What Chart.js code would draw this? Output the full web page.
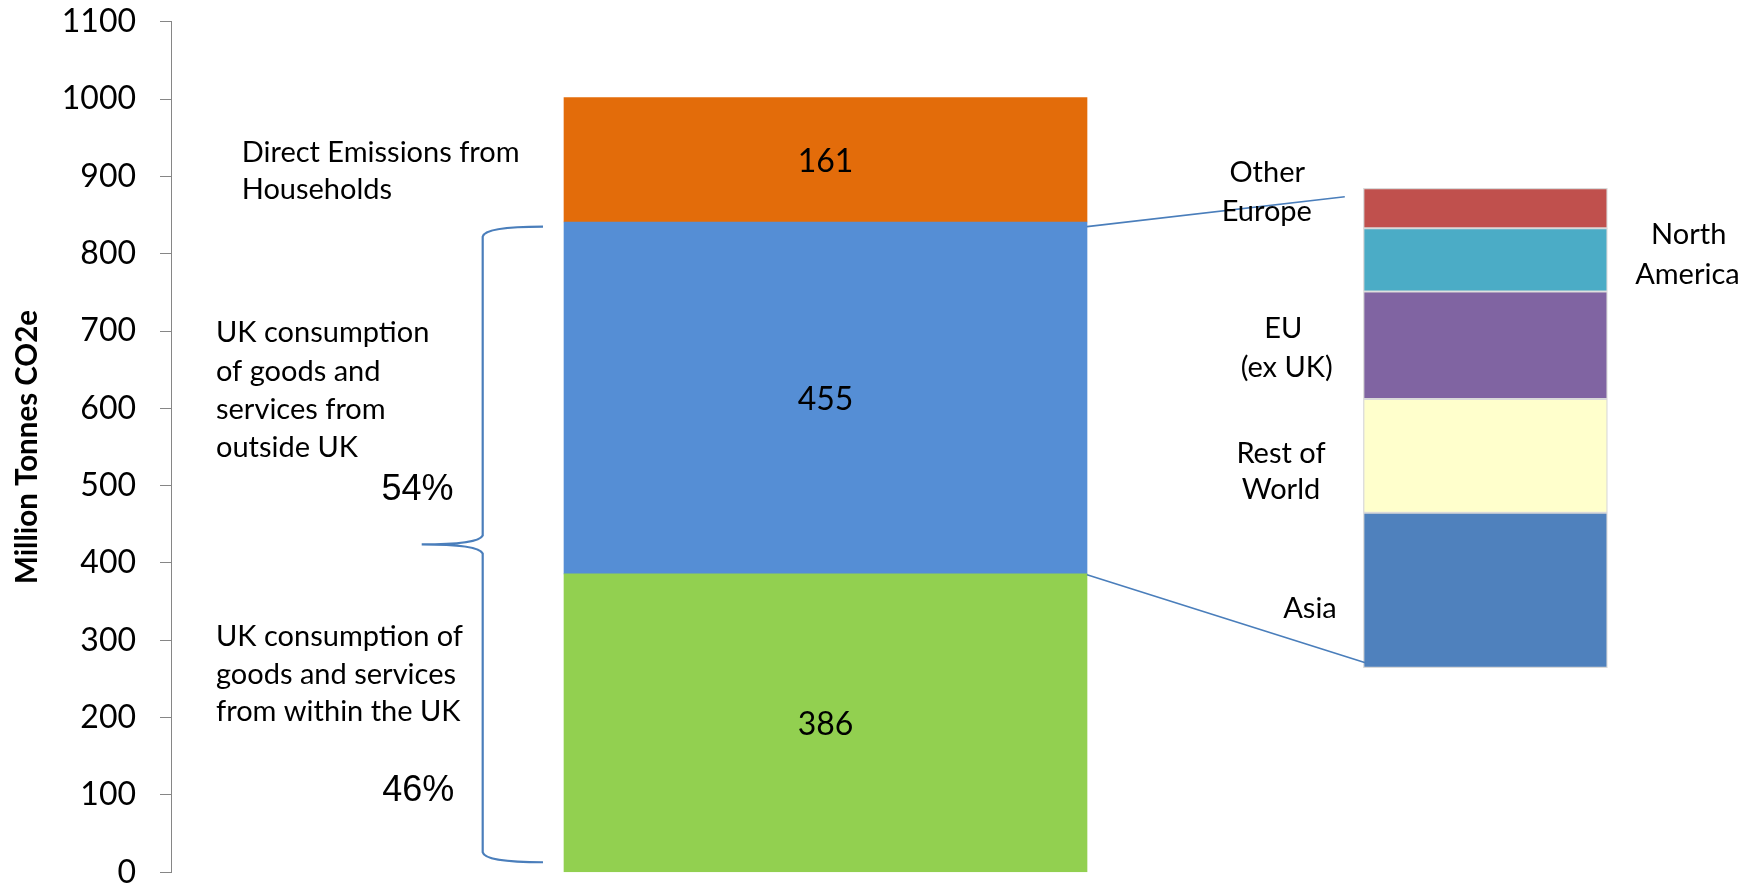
<!DOCTYPE html>
<html>
<head>
<meta charset="utf-8">
<script src="https://cdn.jsdelivr.net/npm/chart.js@4/dist/chart.umd.min.js"></script>
<style>
  html, body { margin: 0; padding: 0; background: #ffffff; }
  canvas { display: block; }
</style>
</head>
<body>
<canvas id="chart" width="1758" height="884"></canvas>
<script>
// ---------- data ----------
const categories = ['UK consumption emissions', 'Imports by region'];

const mainSeries = [
  'UK consumption of goods and services from within the UK',
  'UK consumption of goods and services from outside UK',
  'Direct Emissions from Households'
];
const mainValues = [386, 455, 161];
const mainColors = ['#92D050', '#558ED5', '#E36C0A'];

const regionSeries = ['Asia', 'Rest of World', 'EU (ex UK)', 'North America', 'Other Europe'];
const regionValues = [147, 108, 102, 60, 38];
const regionColors = ['#4F81BD', '#FFFFCC', '#8064A2', '#4BACC6', '#C0504D'];

const yTicks = [0, 100, 200, 300, 400, 500, 600, 700, 800, 900, 1000, 1100];
const yTickLabels = ['0', '100', '200', '300', '400', '500', '600', '700', '800', '900', '1000', '1100'];
const yTitle = 'Million Tonnes CO2e';
const sharePercent = ['54%', '46%'];

// ---------- datasets ----------
const datasets = [];
mainSeries.forEach((name, i) => {
  datasets.push({
    label: name,
    data: [{ x: categories.indexOf('UK consumption emissions'), y: mainValues[i] }],
    backgroundColor: mainColors[i],
    borderWidth: 0,
    stack: 'uk',
    xAxisID: 'x',
    yAxisID: 'y',
    barThickness: 523,
    grouped: false
  });
});
regionSeries.forEach((name, i) => {
  datasets.push({
    label: name,
    data: [{ x: categories.indexOf('Imports by region'), y: regionValues[i] }],
    backgroundColor: regionColors[i],
    borderColor: '#d9d9d9',
    borderWidth: 1.3,
    borderSkipped: false,
    stack: 'regions',
    xAxisID: 'x',
    yAxisID: 'y2',
    barThickness: 244,
    grouped: false
  });
});

const LATO = 'Lato, "Open Sans", sans-serif';
const ARIAL = '"Liberation Sans", Arial, sans-serif';

// ---------- annotation plugin ----------
const annotations = {
  id: 'annotations',
  afterDatasetsDraw(chart) {
    const { ctx } = chart;
    const y = chart.scales.y;
    ctx.save();

    // value labels inside main bars
    ctx.fillStyle = '#000';
    ctx.font = '32px ' + LATO;
    ctx.textAlign = 'center';
    ctx.textBaseline = 'middle';
    mainValues.forEach((v, i) => {
      const el = chart.getDatasetMeta(i).data[0];
      ctx.fillText(String(v), el.x, (el.y + el.base) / 2 + 1.5);
    });

    // left annotation texts
    ctx.textAlign = 'left';
    ctx.font = '29px ' + LATO;
    const leftTexts = [
      ['Direct Emissions from', 241.7, 153],
      ['Households', 241.7, 190],
      ['UK consumption', 216, 333],
      ['of goods and', 216, 371.5],
      ['services from', 216, 410],
      ['outside UK', 216, 448],
      ['UK consumption of', 216, 636.5],
      ['goods and services', 216, 674.5],
      ['from within the UK', 216, 712]
    ];
    leftTexts.forEach(([t, x0, y0]) => ctx.fillText(t, x0, y0));

    // percentages
    ctx.textAlign = 'center';
    ctx.font = '36px ' + ARIAL;
    ctx.fillText(sharePercent[0], 417.5, 490);
    ctx.fillText(sharePercent[1], 418.3, 791);

    // brace
    const endX = 543, spineX = 482.7, tipX = 421.7;
    const yTop = y.getPixelForValue(835);
    const yMid = y.getPixelForValue(424);
    const yBot = y.getPixelForValue(13);
    ctx.strokeStyle = '#4A7EBB';
    ctx.lineWidth = 2.2;
    ctx.beginPath();
    ctx.moveTo(endX, yTop);
    ctx.quadraticCurveTo(spineX + 2, yTop, spineX, yTop + 10);
    ctx.lineTo(spineX, yMid - 9);
    ctx.quadraticCurveTo(spineX - 4, yMid, tipX, yMid);
    ctx.quadraticCurveTo(spineX - 4, yMid, spineX, yMid + 9);
    ctx.lineTo(spineX, yBot - 10);
    ctx.quadraticCurveTo(spineX + 2, yBot, endX, yBot);
    ctx.stroke();

    // connector lines from the imports segment to the regional breakdown
    const blue = chart.getDatasetMeta(1).data[0];
    const green = chart.getDatasetMeta(0).data[0];
    const regTop = chart.getDatasetMeta(datasets.length - 1).data[0];
    const regBot = chart.getDatasetMeta(mainSeries.length).data[0];
    const rightEdge = blue.x + blue.width / 2;
    const regLeft = regTop.x - regTop.width / 2;
    ctx.lineWidth = 1.6;
    ctx.beginPath();
    ctx.moveTo(rightEdge, y.getPixelForValue(835));
    ctx.lineTo(regLeft - 18.6, regTop.y + 8.4);
    ctx.moveTo(rightEdge, green.y + 1);
    ctx.lineTo(regLeft + 2, regBot.base - 4.9);
    ctx.stroke();

    // region labels
    ctx.fillStyle = '#000';
    ctx.font = '29px ' + LATO;
    ctx.textAlign = 'center';
    const regionTexts = [
      ['Other', 1267.2, 173],
      ['Europe', 1266.8, 212],
      ['North', 1688.7, 235],
      ['America', 1687.4, 275],
      ['EU', 1283.2, 328.5],
      ['(ex UK)', 1286.7, 368],
      ['Rest of', 1281, 454],
      ['World', 1281, 490],
      ['Asia', 1310, 609]
    ];
    regionTexts.forEach(([t, cx, cy]) => ctx.fillText(t, cx, cy));

    ctx.restore();
  }
};

// ---------- chart ----------
new Chart(document.getElementById('chart'), {
  type: 'bar',
  data: { datasets },
  plugins: [annotations],
  options: {
    responsive: false,
    animation: false,
    devicePixelRatio: 1,
    layout: { padding: { top: 21.7, bottom: 11.7, left: 0, right: 0 } },
    plugins: {
      legend: { display: false },
      tooltip: { enabled: false }
    },
    scales: {
      x: {
        type: 'linear',
        display: false,
        offset: false,
        min: -0.99182,
        max: 1.41309
      },
      y: {
        position: 'left',
        min: 0,
        max: 1100,
        stacked: true,
        afterBuildTicks: (s) => { s.ticks = yTicks.map(v => ({ value: v })); },
        afterFit: (s) => { s.width = 171; s.paddingTop = 0; s.paddingBottom = 0; },
        grid: {
          drawOnChartArea: false,
          drawTicks: true,
          tickLength: 11,
          color: '#868686',
          lineWidth: 1
        },
        border: { display: true, color: '#868686', width: 1 },
        ticks: {
          padding: 24,
          color: '#000',
          font: { family: LATO, size: 32 },
          callback: (value, index) => yTickLabels[index]
        },
        title: {
          display: true,
          text: yTitle,
          color: '#000',
          font: { family: LATO, size: 29.5, weight: 'bold' },
          padding: { top: 10, bottom: 0 }
        }
      },
      y2: {
        display: false,
        stacked: true,
        min: -194.2,
        max: 613.1
      }
    }
  }
});
</script>
</body>
</html>
